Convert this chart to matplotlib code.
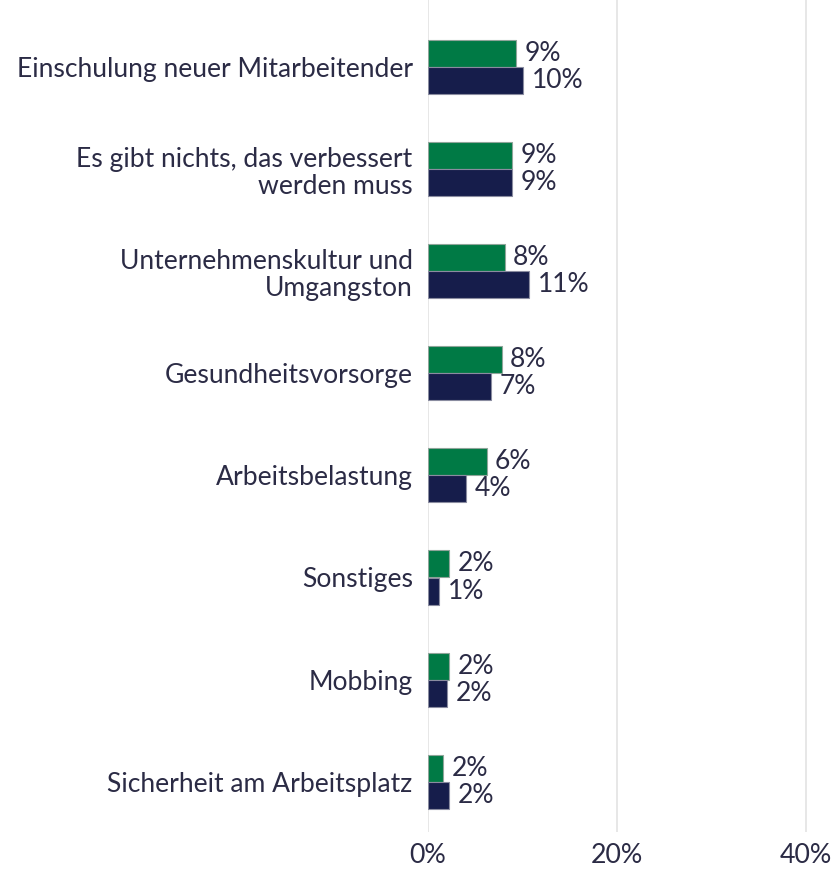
import matplotlib
matplotlib.use("Agg")
import matplotlib.pyplot as plt
import numpy as np

plt.rcParams['font.family'] = ['Lato', 'DejaVu Sans']

categories = ["Einschulung neuer Mitarbeitender",
              "Es gibt nichts, das verbessert\nwerden muss",
              "Unternehmenskultur und\nUmgangston",
              "Gesundheitsvorsorge",
              "Arbeitsbelastung",
              "Sonstiges",
              "Mobbing",
              "Sicherheit am Arbeitsplatz"]
series_green = [9.3, 8.9, 8.1, 7.8, 6.2, 2.2, 2.2, 1.6]
series_navy = [10.05, 8.9, 10.7, 6.7, 4.0, 1.2, 2.0, 2.2]
xticks = [0, 20, 40]
xtick_labels = ["0%", "20%", "40%"]

green = "#007A45"
navy = "#161D4B"
text_col = "#2B2B45"
fs = 19.1

fig = plt.figure(figsize=(8.36, 8.69), dpi=100)
W, H = 836, 869
ax = fig.add_axes([428 / W, 1 - 832 / H, (W - 428) / W, 832 / H])

y = np.arange(len(categories))
bh = 0.265
ax.barh(y - bh / 2, series_green, height=bh, color=green, edgecolor="#8FA59A", linewidth=0.8, zorder=3)
ax.barh(y + bh / 2, series_navy, height=bh, color=navy, edgecolor="#8A8CA0", linewidth=0.8, zorder=3)

for yi, g, n in zip(y, series_green, series_navy):
    ax.text(g + 0.9, yi - bh / 2, f"{round(g):d}%", va="center", ha="left", fontsize=fs, color=text_col)
    ax.text(n + 0.9, yi + bh / 2, f"{round(n):d}%", va="center", ha="left", fontsize=fs, color=text_col)

ax.set_ylim((832 - 67) / 102.1, -67 / 102.1)
ax.set_xlim(0, (W - 428) / 9.45)
ax.set_yticks(y)
ax.set_yticklabels(categories, fontsize=fs, color=text_col, ha="right", linespacing=1.1)
ax.tick_params(axis="y", length=0, pad=11)
ax.set_xticks(xticks)
ax.set_xticklabels(xtick_labels, fontsize=19.3, color=text_col)
ax.tick_params(axis="x", length=0, pad=8)
ax.grid(axis="x", color="#E3E3E3", linewidth=1.2, zorder=0)
for s in ax.spines.values():
    s.set_visible(False)

fig.savefig("out.png", dpi=100)
